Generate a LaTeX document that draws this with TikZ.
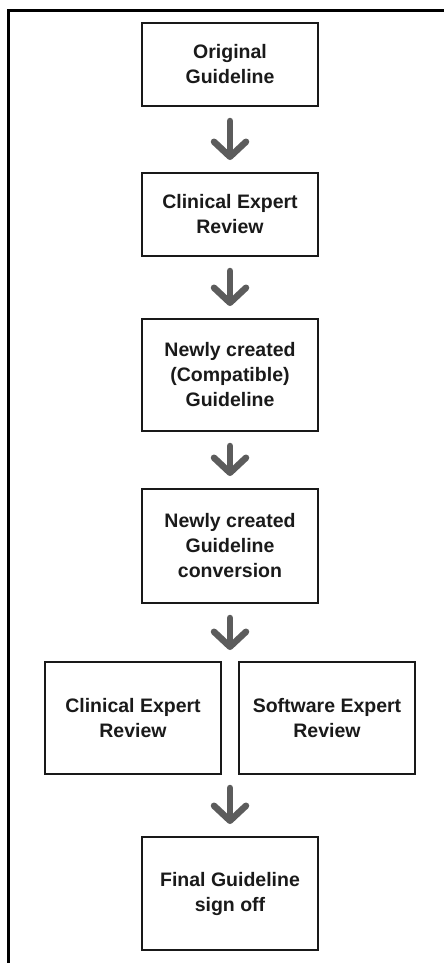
\documentclass[tikz,border=0pt]{standalone}
\usepackage{fontspec}
\setmainfont{Liberation Sans}
\usetikzlibrary{arrows.meta}
\definecolor{arrgray}{HTML}{5C5C5C}
\definecolor{txt}{HTML}{1A1A1A}
\tikzset{
  box/.style={draw=black!90, line width=2bp, minimum width=176bp, align=center,
    text=txt, font=\fontsize{19.5bp}{25bp}\selectfont\bfseries, inner sep=0pt},
  bigarrow/.style={draw=arrgray, line width=6.5bp, line cap=round,
    -{Straight Barb[length=15bp, width=32bp, round]},
    shorten <=14bp, shorten >=12bp},
  frame/.style={draw=black, line width=3bp}
}
\begin{document}
\begin{tikzpicture}[x=1bp, y=-1bp]
\useasboundingbox (0,0) rectangle (444,963);
\fill[white] (0,0) rectangle (444,963);
\draw[frame] (8.3,963) -- (8.3,10.5) -- (444,10.5);

\node[box, minimum height=83bp] (b1) at (230,64.5) {Original\\Guideline};
\node[box, minimum height=83bp] (b2) at (230,214.5) {Clinical Expert\\Review};
\node[box, minimum height=112bp] (b3) at (230,375) {Newly created\\(Compatible)\\Guideline};
\node[box, minimum height=114bp] (b4) at (230,546) {Newly created\\Guideline\\conversion};
\node[box, minimum height=112bp] (cl) at (133,718) {Clinical Expert\\Review};
\node[box, minimum height=112bp] (sw) at (327,718) {Software Expert\\Review};
\node[box, minimum height=113bp] (fin) at (230,893.5) {Final Guideline\\sign off};

\coordinate (split) at (230,662);
\coordinate (join) at (230,774);

\draw[bigarrow] (b1) -- (b2);
\draw[bigarrow] (b2) -- (b3);
\draw[bigarrow] (b3) -- (b4);
\draw[bigarrow] (b4.south) -- (split);
\draw[bigarrow] (join) -- (fin);
\end{tikzpicture}
\end{document}
